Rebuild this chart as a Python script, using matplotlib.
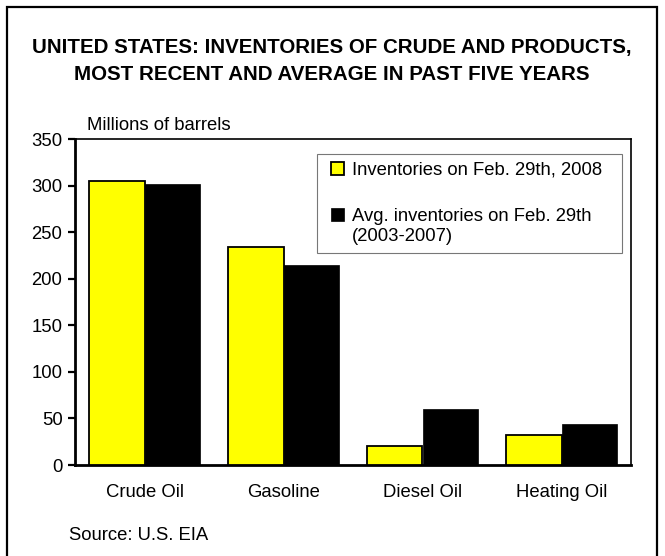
import matplotlib
matplotlib.use("Agg")
import matplotlib.pyplot as plt
from matplotlib.patches import Rectangle
from matplotlib.legend_handler import HandlerPatch
import numpy as np

plt.rcParams['font.family'] = ['Liberation Sans', 'DejaVu Sans']

categories = ["Crude Oil", "Gasoline", "Diesel Oil", "Heating Oil"]
recent = [305, 234, 20, 32]
average = [302, 215, 60, 44]
series_labels = ["Inventories on Feb. 29th, 2008",
                 "Avg. inventories on Feb. 29th\n(2003-2007)"]
yticks = [0, 50, 100, 150, 200, 250, 300, 350]

W, H = 665, 556
FS = 13.3
fig = plt.figure(figsize=(W / 100, H / 100), dpi=100)
fig.patch.set_facecolor("white")

# outer frame
fig.add_artist(Rectangle((7 / W, -0.05), (657 - 7) / W, (H - 7) / H + 0.05,
                         transform=fig.transFigure, fill=False,
                         edgecolor="black", linewidth=1.6))

ax = fig.add_axes([75 / W, 1 - 465 / H, (631 - 75) / W, (465 - 139) / H])
x = np.arange(len(categories))
bw = 0.4
b1 = ax.bar(x - bw / 2, recent, width=bw, color="#FFFF00", edgecolor="black",
            linewidth=1.3, label=series_labels[0], zorder=3)
b2 = ax.bar(x + bw / 2, average, width=bw, color="black", edgecolor="black",
            linewidth=0.5, label=series_labels[1], zorder=3)

ax.set_xlim(-0.5, len(categories) - 0.5)
ax.set_ylim(0, 350)
ax.set_yticks(yticks)
ax.set_yticklabels([str(t) for t in yticks], fontsize=FS)
ax.set_xticks(x)
ax.set_xticklabels(categories, fontsize=FS)
ax.tick_params(axis="x", length=0, pad=14)
ax.tick_params(axis="y", length=5, width=1.6, direction="out", pad=4)
for s in ["left", "bottom"]:
    ax.spines[s].set_linewidth(2.0)
for s in ["top", "right"]:
    ax.spines[s].set_linewidth(1.2)


class HandlerShift(HandlerPatch):
    def __init__(self, dx, dy, **kw):
        super().__init__(**kw)
        self.dx = dx
        self.dy = dy

    def create_artists(self, legend, orig_handle, xdescent, ydescent, width,
                       height, fontsize, trans):
        arts = super().create_artists(legend, orig_handle, xdescent, ydescent,
                                      width, height, fontsize, trans)
        for a in arts:
            a.set_x(a.get_x() + self.dx)
            a.set_y(a.get_y() + self.dy)
        return arts


h1 = b1.patches[0]
h2 = b2.patches[0]
leg = ax.legend(handles=[h1, h2], labels=series_labels,
                loc="upper left",
                bbox_to_anchor=(317 / W, 1 - 154 / H, (622 - 317) / W, 0.0),
                bbox_transform=fig.transFigure, mode="expand",
                fontsize=FS, frameon=True,
                fancybox=False, edgecolor="#555555", handlelength=0.7,
                handleheight=0.7, handletextpad=0.75, labelspacing=1.6,
                borderpad=0.42, borderaxespad=0,
                handler_map={h1: HandlerShift(4.3, 0.0),
                             h2: HandlerShift(4.3, 8.5)})
leg.get_frame().set_linewidth(0.8)

fig.text(332 / W, 1 - 48 / H, "UNITED STATES: INVENTORIES OF CRUDE AND PRODUCTS,",
         ha="center", va="center", fontsize=14.8, fontweight="bold")
fig.text(332 / W, 1 - 75 / H, "MOST RECENT AND AVERAGE IN PAST FIVE YEARS",
         ha="center", va="center", fontsize=14.8, fontweight="bold")
fig.text(87 / W, 1 - 126 / H, "Millions of barrels", ha="left", va="center",
         fontsize=FS)
fig.text(69 / W, 1 - 535 / H, "Source: U.S. EIA", ha="left", va="center",
         fontsize=FS)

fig.savefig("out.png", dpi=100)
